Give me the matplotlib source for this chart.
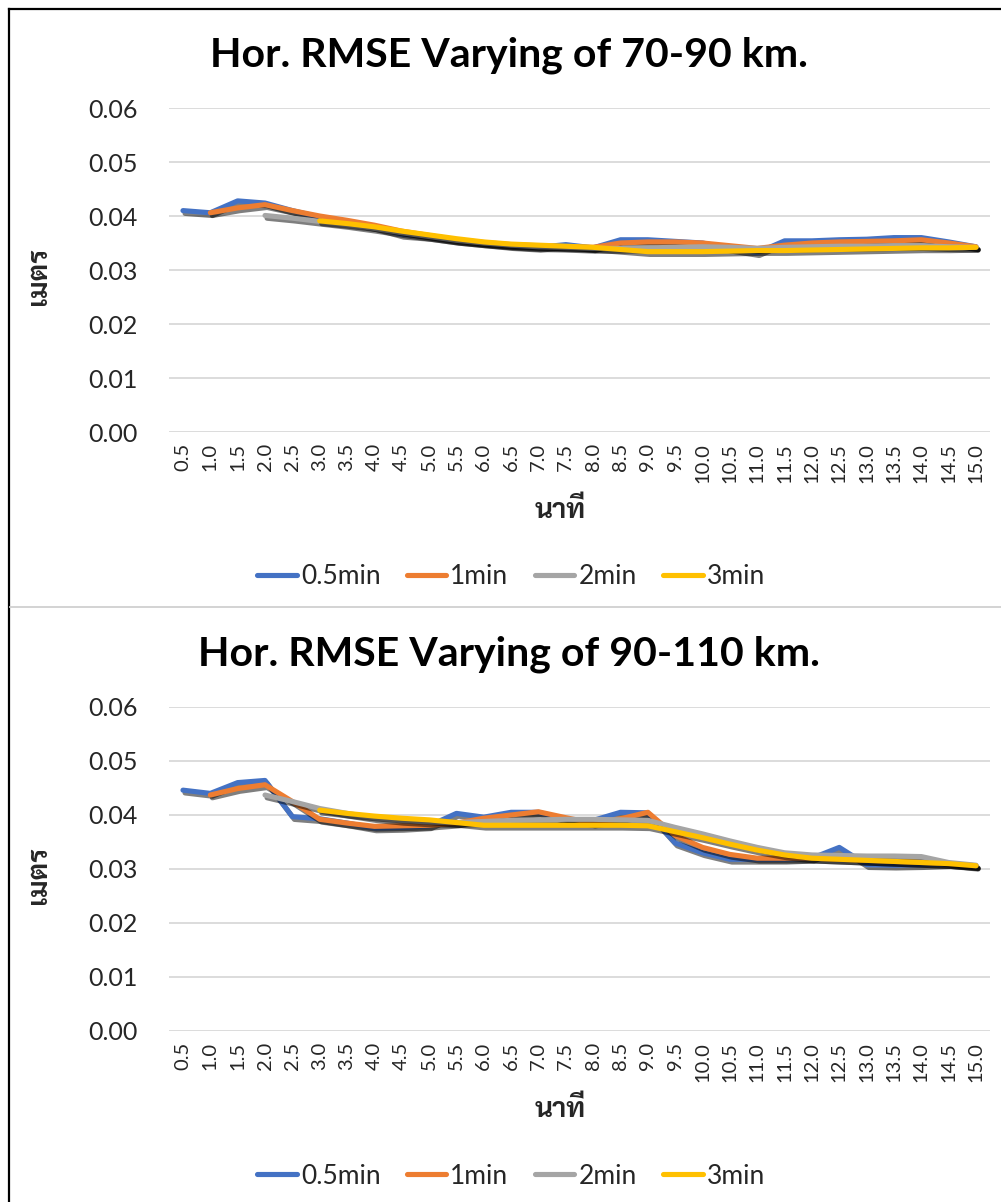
import numpy as np
import matplotlib
matplotlib.use("Agg")
import matplotlib.pyplot as plt
import matplotlib.patheffects as pe
from matplotlib.lines import Line2D

nan = np.nan

# x categories (minutes)
minutes = ["0.5", "1.0", "1.5", "2.0", "2.5", "3.0", "3.5", "4.0", "4.5", "5.0",
           "5.5", "6.0", "6.5", "7.0", "7.5", "8.0", "8.5", "9.0", "9.5", "10.0",
           "10.5", "11.0", "11.5", "12.0", "12.5", "13.0", "13.5", "14.0", "14.5", "15.0"]

series_names = ["0.5min", "1min", "2min", "3min"]
series_colors = ["#4472C4", "#ED7D31", "#A5A5A5", "#FFC000"]

# Hor. RMSE 70-90 km
top_05 = [0.0410, 0.0406, 0.0428, 0.0424, 0.0410, 0.0398, 0.0390, 0.0380, 0.0366, 0.0362,
          0.0355, 0.0350, 0.0345, 0.0342, 0.0347, 0.0341, 0.0356, 0.0356, 0.0353, 0.0350,
          0.0340, 0.0332, 0.0354, 0.0354, 0.0356, 0.0357, 0.0360, 0.0360, 0.0352, 0.0343]
top_1 = [nan, 0.0406, 0.0415, 0.0421, 0.0410, 0.0400, 0.0392, 0.0383, 0.0372, 0.0364,
         0.0356, 0.0351, 0.0347, 0.0345, 0.0343, 0.0342, 0.0350, 0.0352, 0.0352, 0.0350,
         0.0345, 0.0340, 0.0346, 0.0350, 0.0352, 0.0353, 0.0354, 0.0356, 0.0350, 0.0343]
top_2 = [nan, nan, nan, 0.0401, 0.0396, 0.0390, 0.0384, 0.0377, 0.0369, 0.0362,
         0.0355, 0.0350, 0.0346, 0.0343, 0.0342, 0.0340, 0.0340, 0.0341, 0.0342, 0.0343,
         0.0342, 0.0340, 0.0342, 0.0343, 0.0344, 0.0344, 0.0345, 0.0345, 0.0343, 0.0342]
top_3 = [nan, nan, nan, nan, nan, 0.0391, 0.0386, 0.0380, 0.0372, 0.0365,
         0.0358, 0.0352, 0.0348, 0.0346, 0.0344, 0.0342, 0.0338, 0.0334, 0.0334, 0.0334,
         0.0335, 0.0336, 0.0336, 0.0337, 0.0338, 0.0339, 0.0340, 0.0341, 0.0341, 0.0342]

# Hor. RMSE 90-110 km
bot_05 = [0.0446, 0.0440, 0.0460, 0.0464, 0.0397, 0.0393, 0.0385, 0.0376, 0.0377, 0.0380,
          0.0403, 0.0396, 0.0405, 0.0405, 0.0392, 0.0390, 0.0405, 0.0404, 0.0348, 0.0330,
          0.0318, 0.0318, 0.0318, 0.0320, 0.0340, 0.0308, 0.0307, 0.0308, 0.0310, 0.0305]
bot_1 = [nan, 0.0437, 0.0449, 0.0456, 0.0425, 0.0392, 0.0385, 0.0379, 0.0380, 0.0381,
         0.0385, 0.0394, 0.0400, 0.0406, 0.0395, 0.0385, 0.0393, 0.0405, 0.0362, 0.0340,
         0.0327, 0.0320, 0.0320, 0.0320, 0.0318, 0.0316, 0.0314, 0.0312, 0.0310, 0.0306]
bot_2 = [nan, nan, nan, 0.0437, 0.0425, 0.0412, 0.0403, 0.0395, 0.0390, 0.0387,
         0.0386, 0.0388, 0.0390, 0.0391, 0.0392, 0.0392, 0.0391, 0.0390, 0.0377, 0.0365,
         0.0352, 0.0340, 0.0330, 0.0326, 0.0325, 0.0324, 0.0324, 0.0323, 0.0312, 0.0307]
bot_3 = [nan, nan, nan, nan, nan, 0.0409, 0.0403, 0.0398, 0.0394, 0.0391,
         0.0386, 0.0381, 0.0381, 0.0381, 0.0381, 0.0381, 0.0381, 0.0380, 0.0369, 0.0358,
         0.0346, 0.0335, 0.0326, 0.0320, 0.0318, 0.0316, 0.0314, 0.0312, 0.0310, 0.0306]

yticks = [0.00, 0.01, 0.02, 0.03, 0.04, 0.05, 0.06]

plt.rcParams["font.family"] = ["Lato", "DejaVu Sans"]
thai = ["Sarabun", "DejaVu Sans"]

W, H = 1001, 1202
fig = plt.figure(figsize=(W / 100, H / 100), dpi=100)


def fx(px):
    return px / W


def fy(py):
    return 1 - py / H


def draw_chart(off, data, title):
    ax = fig.add_axes([fx(169.3), fy(432 + off), fx(989.7 - 169.3), (432 - 108) / H])
    x = np.arange(len(minutes))
    shadow = [pe.SimpleLineShadow(offset=(1.5, -2.0), shadow_color="black", alpha=0.5),
              pe.Normal()]
    for vals, c in zip(data, series_colors):
        ax.plot(x, vals, color=c, lw=3.7, solid_capstyle="round",
                solid_joinstyle="round", path_effects=shadow)
    ax.set_xlim(-0.5, len(minutes) - 0.5)
    ax.set_ylim(0, 0.06)
    ax.set_yticks(yticks)
    ax.set_yticklabels(["%.2f" % v for v in yticks], fontsize=18, color="#262626")
    ax.set_xticks(x)
    ax.set_xticklabels(minutes, rotation=90, fontsize=14.5, color="#262626")
    ax.tick_params(axis="y", length=0, pad=23)
    ax.tick_params(axis="x", length=0, pad=8)
    ax.grid(axis="y", color="#d9d9d9", lw=1.3)
    ax.set_axisbelow(True)
    for s in ax.spines.values():
        s.set_visible(False)

    fig.text(fx(509), fy(67 + off), title, ha="center", va="baseline",
             fontsize=29.5, fontweight="bold", color="black")
    fig.text(fx(39), fy(276 + off), "เมตร", rotation=90, ha="center", va="center",
             fontsize=20, fontweight="bold", family=thai, color="#262626")
    fig.text(fx(560), fy(511 + off), "นาที", ha="center", va="center",
             fontsize=20, fontweight="bold", family=thai, color="#262626")

    handles = [Line2D([], [], color=c, lw=3.7, solid_capstyle="round") for c in series_colors]
    fig.legend(handles, series_names, loc="center", bbox_to_anchor=(fx(511), fy(577 + off)),
               ncol=4, frameon=False, fontsize=19, handlelength=1.5, handletextpad=0.15,
               columnspacing=1.0, labelcolor="#262626")


draw_chart(0, [top_05, top_1, top_2, top_3], "Hor. RMSE Varying of 70-90 km.")
draw_chart(599, [bot_05, bot_1, bot_2, bot_3], "Hor. RMSE Varying of 90-110 km.")

# outer frame and separator
fig.add_artist(Line2D([fx(9), fx(9)], [fy(9), 0], color="black", lw=1.6))
fig.add_artist(Line2D([fx(9), 1], [fy(9), fy(9)], color="black", lw=1.6))
fig.add_artist(Line2D([fx(10), 1], [fy(607), fy(607)], color="#d0d0d0", lw=1.3))

fig.savefig("out.png", dpi=100)
